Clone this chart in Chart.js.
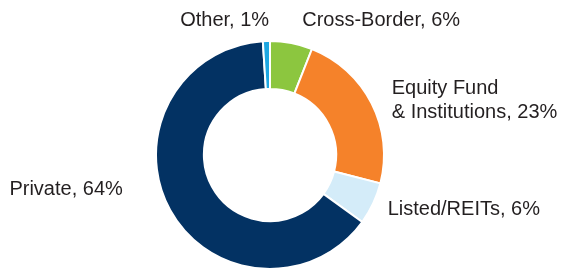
<!DOCTYPE html>
<html>
<head>
<meta charset="utf-8">
<script src="https://cdn.jsdelivr.net/npm/chart.js@4"></script>
<style>
html,body{margin:0;padding:0;background:#fff;}
#wrap{width:562px;height:270px;position:relative;}
</style>
</head>
<body>
<div id="wrap"><canvas id="c" width="562" height="270"></canvas></div>
<script>
const categories = ["Cross-Border", "Equity Fund\n& Institutions", "Listed/REITs", "Private", "Other"];
const shares = [6, 23, 6, 64, 1];
const sliceColors = ["#8cc63f", "#f5822a", "#d4ecf9", "#033263", "#1ea7e1"];

// label placement relative to each arc's mid-angle point (outer radius + gap), alphabetic baseline
const labelStyle = [
  {dx: 6, dy: 8.5, align: "left"},
  {dx: -3, dy: 2.6, align: "left"},
  {dx: -9, dy: 0.5, align: "left"},
  {dx: -24.5, dy: -27.5, align: "right"},
  {dx: 3.5, dy: 11, align: "right"}
];

const labelPlugin = {
  id: "sliceLabels",
  afterDraw(chart) {
    const ctx = chart.ctx;
    const meta = chart.getDatasetMeta(0);
    ctx.save();
    ctx.font = "20px 'Liberation Sans', Arial, sans-serif";
    ctx.fillStyle = "#231f20";
    ctx.textBaseline = "alphabetic";
    meta.data.forEach((arc, i) => {
      const p = arc.getProps(["x", "y", "startAngle", "endAngle", "outerRadius"], true);
      const mid = (p.startAngle + p.endAngle) / 2;
      const r = p.outerRadius + 26;
      const x = p.x + Math.cos(mid) * r + labelStyle[i].dx;
      const y = p.y + Math.sin(mid) * r + labelStyle[i].dy;
      const lines = (categories[i] + ", " + shares[i] + "%").split("\n");
      const lh = 24;
      ctx.textAlign = labelStyle[i].align;
      lines.forEach((ln, k) => {
        ctx.fillText(ln, x, y + k * lh);
      });
    });
    ctx.restore();
  }
};

new Chart(document.getElementById("c"), {
  type: "doughnut",
  data: {
    labels: categories,
    datasets: [{
      data: shares,
      backgroundColor: sliceColors,
      borderColor: "#ffffff",
      borderWidth: 2
    }]
  },
  options: {
    responsive: false,
    animation: false,
    cutout: "58%",
    rotation: 0,
    layout: {padding: {left: 155, right: 177, top: 40, bottom: 0}},
    plugins: {legend: {display: false}, tooltip: {enabled: false}}
  },
  plugins: [labelPlugin]
});
</script>
</body>
</html>
